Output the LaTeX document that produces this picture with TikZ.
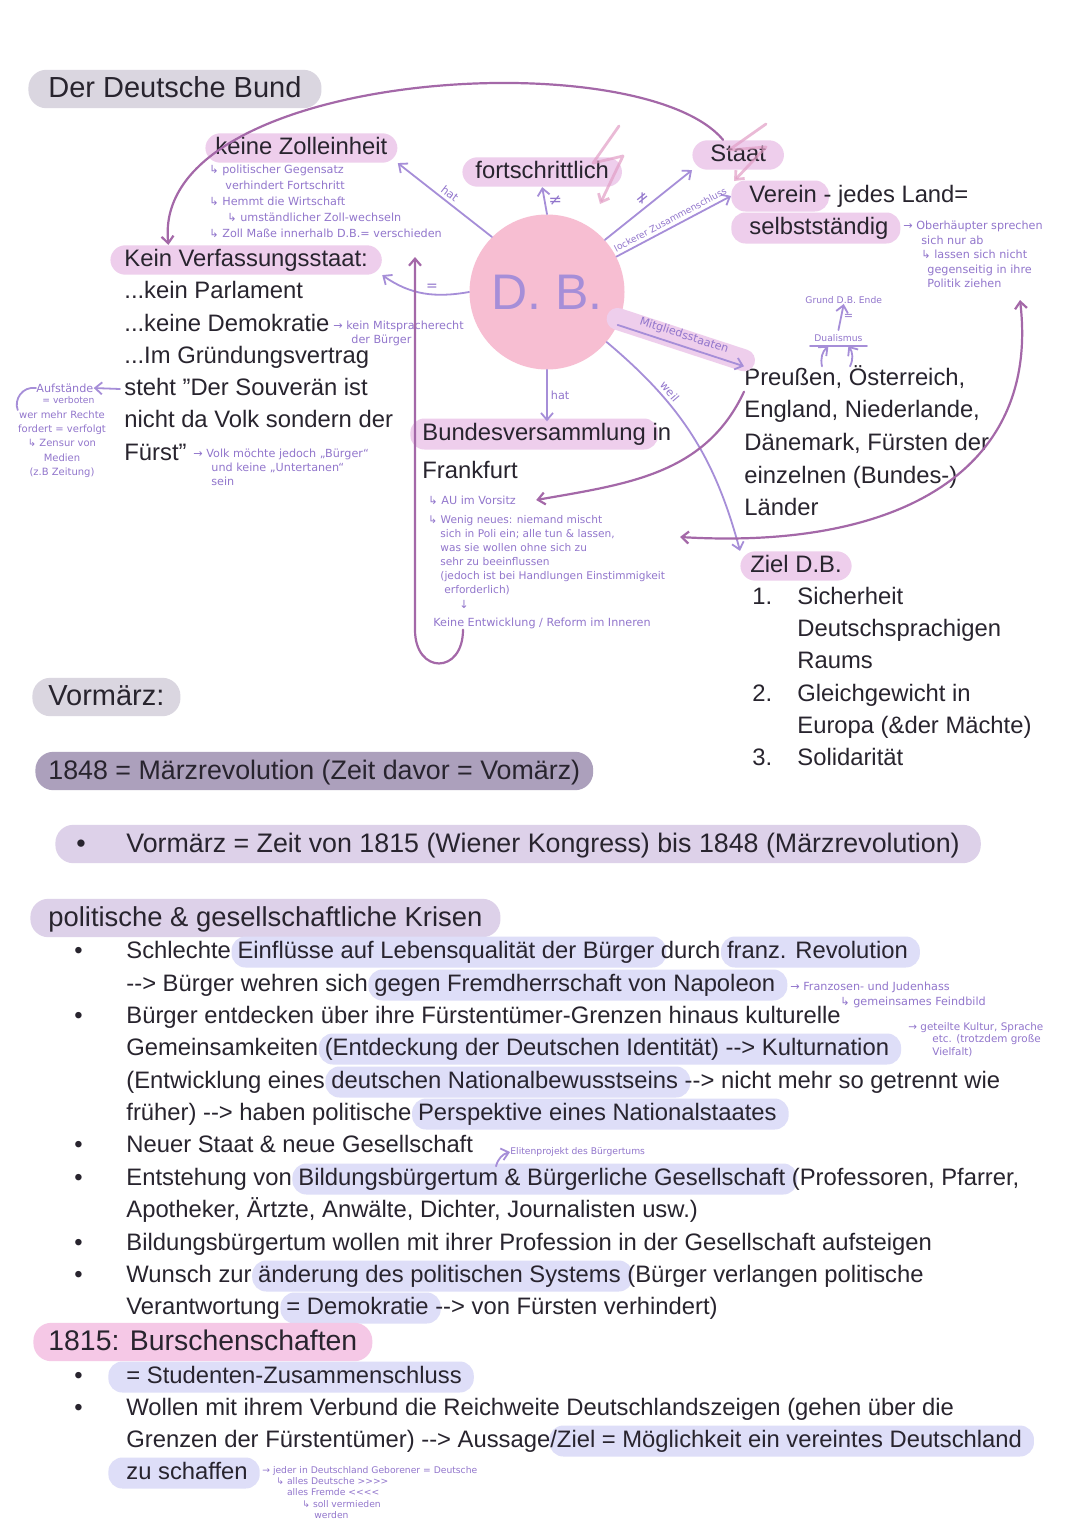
\documentclass[tikz,border=0pt]{standalone}
\usepackage{fontspec}
\setmainfont{Liberation Sans}
\newfontfamily\handfont{DejaVu Sans}
\usetikzlibrary{arrows.meta, positioning, calc}
\definecolor{ink}{RGB}{40,36,46}
\definecolor{notepurple}{RGB}{146,118,204}
\definecolor{lavline}{RGB}{166,142,216}
\definecolor{mauve}{RGB}{164,104,168}
\definecolor{pinkhl}{RGB}{238,206,236}
\definecolor{bluehl}{RGB}{222,222,248}
\definecolor{grayhl}{RGB}{218,214,224}
\definecolor{darkhl}{RGB}{172,160,188}
\definecolor{lilachl}{RGB}{221,209,233}
\definecolor{burschpink}{RGB}{245,200,230}
\definecolor{dbpink}{RGB}{247,190,210}
\definecolor{boltpink}{RGB}{226,158,198}
\newcommand{\bodyfont}{\fontsize{11.9}{14}\selectfont}
\newcommand{\headfont}{\fontsize{14.5}{17}\selectfont}
\newcommand{\midfont}{\fontsize{13.4}{16}\selectfont}
\newcommand{\notefont}{\handfont\fontsize{5.6}{7.2}\selectfont}
\newcommand{\tinyfont}{\handfont\fontsize{4.6}{5.6}\selectfont}
\newcommand{\hl}[3][3pt]{\kern-#1\relax\tikz[baseline=(hlbx.base)]\node[anchor=base, fill=#2, draw=none, rounded corners=7pt, inner xsep=0pt, inner ysep=1.6pt, outer sep=0pt, text height=9.5pt, text depth=2.8pt](hlbx){\hspace*{#1}#3\hspace*{6pt}};\kern-6pt\relax}
\newcommand{\hlp}[2][3pt]{\hl[#1]{pinkhl}{#2}}
\newcommand{\hlb}[2][3pt]{\hl[#1]{bluehl}{#2}}

\begin{document}
\begin{tikzpicture}[x=0.5pt, y=-0.5pt, >={Straight Barb[length=3.5pt, width=6pt]}, line cap=round,
    txt/.style={anchor=west, inner sep=0pt, text=ink, font=\bodyfont, text height=9.5pt, text depth=2.8pt},
    pill/.style={anchor=west, inner ysep=1.2pt, rounded corners=7.5pt, text=ink, font=\bodyfont, text height=9.5pt, text depth=2.8pt},
    bigpill/.style={anchor=west, inner ysep=2.2pt, rounded corners=9pt, text=ink, text height=11.5pt, text depth=3.3pt},
    note/.style={anchor=west, inner sep=0pt, text=notepurple, font=\notefont, align=left},
    tinynote/.style={note, font=\tinyfont},
    lbl/.style={text=notepurple, font=\notefont, inner sep=1.5pt},
    lavarrow/.style={draw=lavline, line width=0.9pt},
    mauvearrow/.style={draw=mauve, line width=1.1pt},
    band/.style={draw=pinkhl, line width=11pt, line cap=round},
    bolt/.style={draw=boltpink, draw opacity=0.7, line width=1.4pt, line join=round}]
  \fill[white] (0,0) rectangle (1080,1526);
  \useasboundingbox (0,0) rectangle (1080,1526);

  \node[bigpill, fill=grayhl, font=\headfont, inner xsep=10pt] (title) at (28,89) {Der Deutsche Bund};

  \node[pill, fill=pinkhl, inner xsep=5pt] (zoll) at (205,148) {keine Zolleinheit};
  \node[note, anchor=north west, font=\handfont\fontsize{5.6}{8}\selectfont] (zollnote) at (209,165) {↳ politischer Gegensatz\\\hspace*{8pt}verhindert Fortschritt\\↳ Hemmt die Wirtschaft\\\hspace*{9pt}↳ umständlicher Zoll-wechseln\\↳ Zoll Maße innerhalb D.B.= verschieden};
  \node[pill, fill=pinkhl, inner xsep=6.5pt] (fort) at (462,172) {fortschrittlich};
  \node[pill, fill=pinkhl, inner xsep=9pt] (staat) at (692,155) {Staat};
  \node[txt] (verein) at (749,196) {\hlp[9pt]{Verein} - jedes Land=};
  \node[txt] (selbst) at (749,228) {\hlp[9pt]{selbstständig}};
  \node[note, anchor=north west] (ober) at (903,221) {→ Oberhäupter sprechen\\\hspace*{9pt}sich nur ab\\\hspace*{9pt}↳ lassen sich nicht\\\hspace*{12pt}gegenseitig in ihre\\\hspace*{12pt}Politik ziehen};

  \node[circle, fill=dbpink, minimum size=77.5pt, inner sep=0pt, text=lavline, font=\fontsize{25}{25}\selectfont] (db) at (547,292) {D. B.};

  \node[pill, fill=pinkhl, inner xsep=7pt] (verf) at (110,260) {Kein Verfassungsstaat:};
  \node[txt] (parl) at (124,292) {...kein Parlament};
  \node[txt] (demo) at (124,325) {...keine Demokratie};
  \node[txt] (vertrag) at (124,357) {...Im Gründungsvertrag};
  \node[txt] (souv) at (124,389) {steht "Der Souverän ist};
  \node[txt] (volk) at (124,421) {nicht da Volk sondern der};
  \node[txt] (fuerst) at (124,454) {Fürst"};
  \node[note, anchor=north west, font=\handfont\fontsize{5.6}{7}\selectfont] (mitsp) at (333,321) {→ kein Mitspracherecht\\\hspace*{9pt}der Bürger};
  \node[note, anchor=north west, font=\handfont\fontsize{5.6}{6.8}\selectfont] (volknote) at (193,449) {→ Volk möchte jedoch „Bürger“\\\hspace*{9pt}und keine „Untertanen“\\\hspace*{9pt}sein};
  \node[note] (aufst) at (36,388) {Aufstände};
  \node[tinynote] (verb) at (42,400) {= verboten};
  \node[note, anchor=north, align=center, font=\handfont\fontsize{5}{7.2}\selectfont] (wer) at (62,410) {wer mehr Rechte\\fordert = verfolgt\\↳ Zensur von\\Medien\\(z.B Zeitung)};

  \node[txt] (bv) at (422,434) {\hlp[6pt]{Bundesversammlung} in};
  \node[txt] (ffm) at (422,472) {Frankfurt};
  \node[note] (vorsitz) at (428,500) {↳ AU im Vorsitz};
  \node[note, anchor=north west, font=\handfont\fontsize{5.3}{7}\selectfont] (wenig) at (428,515) {↳ Wenig neues: niemand mischt\\\hspace*{6pt}sich in Poli ein; alle tun \& lassen,\\\hspace*{6pt}was sie wollen ohne sich zu\\\hspace*{6pt}sehr zu beeinflussen\\\hspace*{6pt}(jedoch ist bei Handlungen Einstimmigkeit\\\hspace*{8pt}erforderlich)};
  \node[note, anchor=north west] (entw) at (433,600) {\hspace*{13pt}↓\\[2pt]Keine Entwicklung / Reform im Inneren};

  \node[txt] (p1) at (744,379) {Preußen, Österreich,};
  \node[txt] (p2) at (744,411) {England, Niederlande,};
  \node[txt] (p3) at (744,444) {Dänemark, Fürsten der};
  \node[txt] (p4) at (744,477) {einzelnen (Bundes-)};
  \node[txt] (p5) at (744,509) {Länder};
  \node[tinynote] (grundDB) at (805,300) {Grund D.B. Ende};
  \node[tinynote, inner sep=2pt] (dual) at (810,338) {Dualismus};

  \node[pill, fill=pinkhl, inner xsep=5pt] (ziel) at (740,566) {Ziel D.B.};
  \node[txt] (n1) at (752,598) {1.};
  \node[txt] (n2) at (752,695) {2.};
  \node[txt] (n3) at (752,759) {3.};
  \node[txt] (z1) at (797,598) {Sicherheit};
  \node[txt] (z2) at (797,630) {Deutschsprachigen};
  \node[txt] (z3) at (797,662) {Raums};
  \node[txt] (z4) at (797,695) {Gleichgewicht in};
  \node[txt] (z5) at (797,727) {Europa (\&der Mächte)};
  \node[txt] (z6) at (797,759) {Solidarität};

  \draw[bolt, ->] (619,126) -- (593,163) -- (623,156) -- (600,204);
  \draw[bolt, ->] (766,124) -- (729,150) -- (766,147) -- (734,181);

  \draw[lavarrow, ->] (db.135) -- node[lbl, sloped, above] {hat} (zoll.south east);
  \draw[lavarrow, ->] (db.north) -- node[lbl, right, font=\handfont\fontsize{8}{8}\selectfont] {≠} (fort.south);
  \draw[lavarrow, ->] (db.42) -- node[lbl, sloped, above, font=\handfont\fontsize{8}{8}\selectfont] {≠} (staat.south west);
  \draw[lavarrow, ->] (db.27) -- node[lbl, sloped, above, font=\tinyfont] {lockerer Zusammenschluss} ([xshift=-9pt]verein.west);
  \draw[lavarrow, ->] (db.west) to[out=190, in=-35] node[lbl, above, pos=.4, font=\handfont\fontsize{7}{7}\selectfont] {=} (verf.south east);
  \draw[band] ([yshift=3pt]db.-25) -- ([yshift=3pt]p1.north west);
  \draw[lavarrow, ->] (db.-25) -- node[lbl, sloped, above=0.5pt] {Mitgliedsstaaten} (p1.north west);
  \draw[lavarrow, ->] (db.-40) to[out=-40, in=105] node[lbl, sloped, above, pos=.3] {weil} (ziel.north west);
  \draw[lavarrow, ->] (db.south) -- node[lbl, right] {hat} (db.south |- bv.north);

  \draw[mauvearrow, ->] (staat.135) .. controls (640,40) and (150,70) .. (verf.169);
  \coordinate (vtip) at (415,257);
  \draw[mauvearrow, ->] ([xshift=15pt]entw.south west) .. controls +(0,45) and +(0,45) .. (vtip |- entw.south) -- (vtip);
  \draw[mauvearrow, ->] (p1.south west) to[out=-115, in=10] ([xshift=10pt]vorsitz.east);
  \coordinate (lassenEnd) at (680,537);
  \coordinate (oberTip) at (1020,300);
  \draw[mauvearrow, <->] (lassenEnd) .. controls (900,550) and (1040,470) .. (oberTip);

  \draw[lavarrow, ->] ([xshift=-2pt]souv.west) -- (aufst.east);
  \draw[lavarrow] (aufst.west) .. controls +(-14,-2) and +(-4,-10) .. (wer.north west);
  \draw[lavarrow, ->] (dual.north) -- node[lbl, right, inner sep=1pt] {=} (grundDB.south);
  \draw[lavarrow] (dual.south west) -- (dual.south east);
  \draw[lavarrow, ->] ([xshift=39pt]p1.north west) to[bend left=30] ([xshift=-5pt]dual.south);
  \draw[lavarrow, ->] ([xshift=53pt]p1.north west) to[bend right=30] ([xshift=5pt]dual.south);

  \node[bigpill, fill=grayhl, font=\headfont, inner xsep=8pt] (vorm) at (32,697) {Vormärz:};
  \node[bigpill, fill=darkhl, font=\midfont, inner xsep=6.5pt] (rev) at (35,771) {1848 = Märzrevolution (Zeit davor = Vomärz)};
  \node[bigpill, fill=lilachl, font=\midfont, inner xsep=10.5pt] (zeit) at (55,844) {\makebox[25pt][l]{•}Vormärz = Zeit von 1815 (Wiener Kongress) bis 1848 (Märzrevolution)};
  \node[bigpill, fill=lilachl, font=\fontsize{13.7}{16}\selectfont, inner xsep=9pt] (krise) at (30,918) {politische \& gesellschaftliche Krisen};

  \foreach \y [count=\i] in {952,1017,1146,1179,1244,1276,1377,1409}
    \node[txt] (dot\i) at (74,\y) {•};
  \node[txt] (l1) at (126,952) {Schlechte \hlb{Einflüsse auf Lebensqualität der Bürger} durch \hlb{franz. Revolution}};
  \node[txt] (l2) at (126,985) {-{}-> Bürger wehren sich \hlb{gegen Fremdherrschaft von Napoleon}};
  \node[note, anchor=north west, font=\handfont\fontsize{5.6}{7.4}\selectfont] (hass) at (790,982) {→ Franzosen- und Judenhass\\\hspace*{25pt}↳ gemeinsames Feindbild};
  \node[txt] (l3) at (126,1017) {Bürger entdecken über ihre Fürstentümer-Grenzen hinaus kulturelle};
  \node[txt] (l4) at (126,1049) {Gemeinsamkeiten \hlb{(Entdeckung der Deutschen Identität) -{}-> Kulturnation}};
  \node[note, anchor=north west, font=\handfont\fontsize{5.2}{6.3}\selectfont] (kultur) at (908,1022) {→ geteilte Kultur, Sprache\\\hspace*{12pt}etc. (trotzdem große\\\hspace*{12pt}Vielfalt)};
  \node[txt] (l5) at (126,1082) {(Entwicklung eines \hlb{deutschen Nationalbewusstseins} -{}-> nicht mehr so getrennt wie};
  \node[txt] (l6) at (126,1114) {früher) -{}-> haben politische \hlb{Perspektive eines Nationalstaates}};
  \node[txt] (l7) at (126,1146) {Neuer Staat \& neue Gesellschaft};
  \node[tinynote] (elite) at (510,1152) {Elitenprojekt des Bürgertums};
  \node[txt] (l8) at (126,1179) {Entstehung von \hlb{Bildungsbürgertum \& Bürgerliche Gesellschaft} (Professoren, Pfarrer,};
  \node[txt] (l9) at (126,1211) {Apotheker, Ärtzte, Anwälte, Dichter, Journalisten usw.)};
  \node[txt] (l10) at (126,1244) {Bildungsbürgertum wollen mit ihrer Profession in der Gesellschaft aufsteigen};
  \node[txt] (l11) at (126,1276) {Wunsch zur \hlb{änderung des politischen Systems} (Bürger verlangen politische};
  \node[txt] (l12) at (126,1308) {Verantwortung \hlb{= Demokratie} -{}-> von Fürsten verhindert)};
  \node[bigpill, fill=burschpink, font=\fontsize{14.2}{17}\selectfont, inner xsep=7.5pt] (bursch) at (33,1342) {1815: Burschenschaften};
  \node[txt] (l13) at (126,1377) {\hlb[9pt]{= Studenten-Zusammenschluss}};
  \node[txt] (l14) at (126,1409) {Wollen mit ihrem Verbund die Reichweite Deutschlandszeigen (gehen über die};
  \node[txt] (l15) at (126,1441) {Grenzen der Fürstentümer) -{}-> Aussage\hlb[0.5pt]{/Ziel = Möglichkeit ein vereintes Deutschland}};
  \node[txt] (l16) at (126,1473) {\hlb[9pt]{zu schaffen}};
  \node[tinynote, anchor=north west] (geboren) at (262,1466) {→ jeder in Deutschland Geborener = Deutsche\\\hspace*{7pt}↳ alles Deutsche >>>>\\\hspace*{7pt}\phantom{↳ }alles Fremde <<<<\\\hspace*{20pt}↳ soll vermieden\\\hspace*{26pt}werden};

  \draw[lavarrow, ->] ([xshift=185pt]l8.north west) to[bend left=30] (elite.west);
\end{tikzpicture}
\end{document}
